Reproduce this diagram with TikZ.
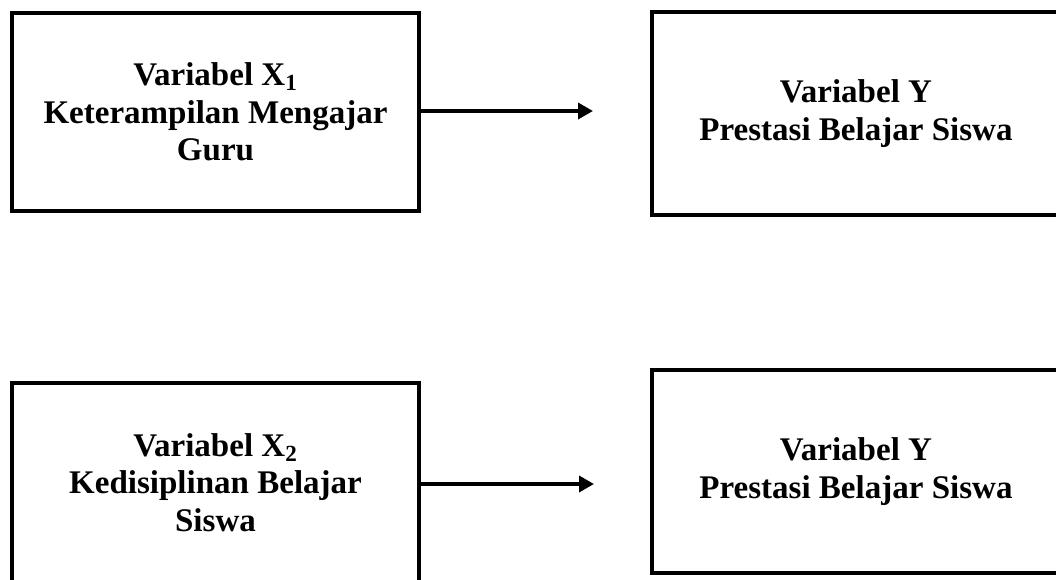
\documentclass[tikz,border=0pt]{standalone}
\usepackage{fontspec}
\setmainfont{Liberation Serif}
\usetikzlibrary{arrows.meta}
\usetikzlibrary{positioning}

\tikzset{
  varbox/.style={draw, line width=2.3pt, inner sep=0pt, align=center,
    minimum width=8.14cm, minimum height=4cm,
    font=\fontsize{18.8}{21.4}\selectfont\bfseries},
  link/.style={line width=2pt, -{Triangle[length=3mm,width=3.2mm]}}
}

\begin{document}
\begin{tikzpicture}[x=0.02cm, y=-0.02cm]
      \useasboundingbox (0,0) rectangle (1056,579);
      \clip (0,0) rectangle (1056,579);

      % top row
      \node[varbox, minimum height=3.96cm] (x1) at (215.5,112) {Variabel X\textsubscript{1}\\Keterampilan Mengajar\\Guru};
      \node[varbox, minimum width=8.16cm, minimum height=4.06cm] (y1) at (856,113.5) {Variabel Y\\Prestasi Belajar Siswa};
      \coordinate (tip1) at (593,111);
      \draw[link] (x1.east |- tip1) -- (tip1);

      % bottom row
      \node[varbox, minimum height=3.98cm] (x2) at (215.5,482.5) {Variabel X\textsubscript{2}\\Kedisiplinan Belajar\\Siswa};
      \node[varbox, minimum width=8.16cm, minimum height=4.06cm] (y2) at (856,471.5) {Variabel Y\\Prestasi Belajar Siswa};
      \coordinate (tip2) at (594,484);
      \draw[link] (x2.east |- tip2) -- (tip2);
\end{tikzpicture}
\end{document}
